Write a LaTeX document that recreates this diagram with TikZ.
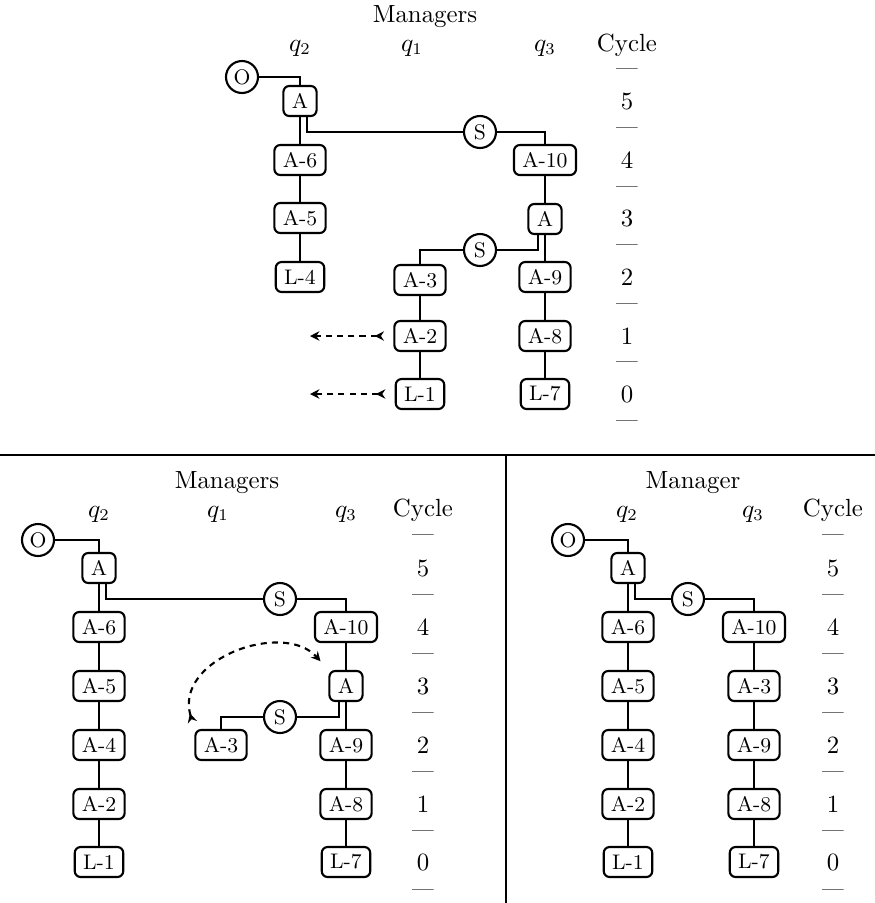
\documentclass[tikz,border=0pt]{standalone}
\usepackage{amsmath}
\usetikzlibrary{positioning,arrows.meta,calc}

\begin{document}
\begin{tikzpicture}[x=0.015cm,y=-0.015cm,
 task/.style={draw,line width=0.9pt,rounded corners=2.5pt,minimum height=0.45cm,inner xsep=3.6pt,inner ysep=0pt,font=\small},
 disp/.style={draw,circle,line width=0.9pt,minimum size=0.48cm,inner sep=0pt,font=\small},
 link/.style={line width=0.8pt},
 move/.style={line width=0.9pt,dash pattern=on 2.6pt off 2.2pt,{Stealth[reversed,length=4pt,width=4pt]}-{Stealth[length=4pt,width=4pt]}},
 head/.style={inner sep=0pt,font=\fontsize{10.6}{12}\selectfont},
 cyc/.style={inner sep=0pt,font=\fontsize{10.6}{12}\selectfont},
 bar/.style={inner sep=0pt,font=\small}]
\useasboundingbox (0,0) rectangle (875,903);
% frame
\draw[line width=0.9pt] (0,455) -- (875,455);
\draw[line width=0.9pt] (506,455) -- (506,903);

% top panel
\node[head] (tmgr) at (425,17) {Managers};
\node[head] (tq2) at (300,48) {$q_2$};
\node[head] (tq1) at (412,48) {$q_1$};
\node[head] (tq3) at (545,48) {$q_3$};
\node[head] (tcyc) at (627,45) {Cycle};
\foreach \n/\yy in {5/101,4/160,3/218,2/277,1/336,0/394}
  \node[cyc] (tc\n) at (627,\yy) {\n};
\foreach \yy [count=\i] in {72,131,190,248,307,365,424}
  \node[bar] (tb\i) at (627,\yy) {---};
\node[disp] (tO) at (242,77) {O};
\node[task] (tAq2) at (300,101) {A};
\node[task] (tA6) at (300,160) {A-6};
\node[task] (tA5) at (300,218) {A-5};
\node[task] (tL4) at (300,277) {L-4};
\node[disp] (tS1) at (480,132) {S};
\node[task] (tA10) at (545,160) {A-10};
\node[task] (tAq3) at (545,219) {A};
\node[task] (tA9) at (545,277) {A-9};
\node[task] (tA8) at (545,336) {A-8};
\node[task] (tL7) at (545,394) {L-7};
\node[disp] (tS2) at (480,250) {S};
\node[task] (tA3) at (420,280) {A-3};
\node[task] (tA2) at (420,336) {A-2};
\node[task] (tL1) at (420,394) {L-1};
\coordinate (tE2) at (310,336);
\coordinate (tE1) at (310,394);
\draw[link] (tO.east) -| (tAq2.north);
\draw[link] (tAq2) -- (tA6) -- (tA5) -- (tL4);
\draw[link] ($(tAq2.south)+(7,0)$) |- (tS1.west);
\draw[link] (tS1.east) -| (tA10.north);
\draw[link] (tA10) -- (tAq3) -- (tA9) -- (tA8) -- (tL7);
\draw[link] ($(tAq3.south)+(-7,0)$) |- (tS2.east);
\draw[link] (tS2.west) -| (tA3.north);
\draw[link] (tA3) -- (tA2) -- (tL1);
\draw[move,shorten <=4pt] (tA2.west) -- (tE2);
\draw[move,shorten <=4pt] (tL1.west) -- (tE1);

% bottom left panel
\node[head] (bmgr) at (227,483) {Managers};
\node[head] (bq2) at (99,514) {$q_2$};
\node[head] (bq1) at (218,514) {$q_1$};
\node[head] (bq3) at (346,514) {$q_3$};
\node[head] (bcyc) at (423,510) {Cycle};
\foreach \n/\yy in {5/568,4/627,3/686,2/745,1/804,0/862}
  \node[cyc] (bc\n) at (423,\yy) {\n};
\foreach \yy [count=\i] in {538,598,657,716,775,834,893}
  \node[bar] (bb\i) at (423,\yy) {---};
\node[disp] (bO) at (38,540) {O};
\node[task] (bAq2) at (99,568) {A};
\node[task] (bA6) at (99,627) {A-6};
\node[task] (bA5) at (99,686) {A-5};
\node[task] (bA4) at (99,745) {A-4};
\node[task] (bA2) at (99,804) {A-2};
\node[task] (bL1) at (99,862) {L-1};
\node[disp] (bS1) at (280,599) {S};
\node[task] (bA10) at (346,627) {A-10};
\node[task] (bAq3) at (346,686) {A};
\node[task] (bA9) at (346,745) {A-9};
\node[task] (bA8) at (346,804) {A-8};
\node[task] (bL7) at (346,862) {L-7};
\node[disp] (bS2) at (280,717) {S};
\node[task] (bA3) at (221,745) {A-3};
\draw[link] (bO.east) -| (bAq2.north);
\draw[link] (bAq2) -- (bA6) -- (bA5) -- (bA4) -- (bA2) -- (bL1);
\draw[link] ($(bAq2.south)+(7,0)$) |- (bS1.west);
\draw[link] (bS1.east) -| (bA10.north);
\draw[link] (bA10) -- (bAq3) -- (bA9) -- (bA8) -- (bL7);
\draw[link] ($(bAq3.south)+(-7,0)$) |- (bS2.east);
\draw[link] (bS2.west) -| (bA3.north);
\draw[move,shorten <=3pt,shorten >=5pt] (bA3.north west) .. controls +(-20,-70) and +(-45,-50) .. (bAq3.north west);

% bottom right panel
\node[head] (rmgr) at (693,483) {Manager};
\node[head] (rq2) at (627,514) {$q_2$};
\node[head] (rq3) at (753,514) {$q_3$};
\node[head] (rcyc) at (833,510) {Cycle};
\foreach \n/\yy in {5/568,4/627,3/686,2/745,1/804,0/862}
  \node[cyc] (rc\n) at (833,\yy) {\n};
\foreach \yy [count=\i] in {538,598,657,716,775,834,893}
  \node[bar] (rb\i) at (833,\yy) {---};
\node[disp] (rO) at (568,540) {O};
\node[task] (rAq2) at (628,568) {A};
\node[task] (rA6) at (628,627) {A-6};
\node[task] (rA5) at (628,686) {A-5};
\node[task] (rA4) at (628,745) {A-4};
\node[task] (rA2) at (628,804) {A-2};
\node[task] (rL1) at (628,862) {L-1};
\node[disp] (rS) at (688,599) {S};
\node[task] (rA10) at (754,627) {A-10};
\node[task] (rA3) at (754,686) {A-3};
\node[task] (rA9) at (754,745) {A-9};
\node[task] (rA8) at (754,804) {A-8};
\node[task] (rL7) at (754,862) {L-7};
\draw[link] (rO.east) -| (rAq2.north);
\draw[link] (rAq2) -- (rA6) -- (rA5) -- (rA4) -- (rA2) -- (rL1);
\draw[link] ($(rAq2.south)+(7,0)$) |- (rS.west);
\draw[link] (rS.east) -| (rA10.north);
\draw[link] (rA10) -- (rA3) -- (rA9) -- (rA8) -- (rL7);
\end{tikzpicture}
\end{document}
